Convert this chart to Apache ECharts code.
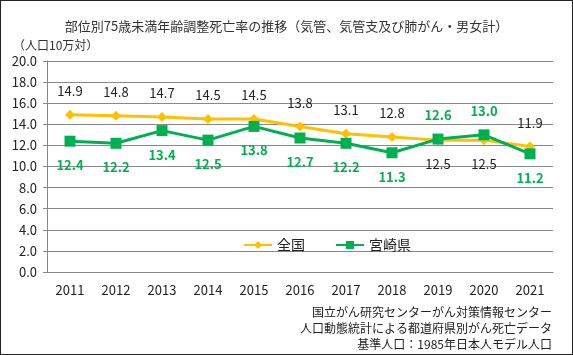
<!DOCTYPE html>
<html><head><meta charset="utf-8">
<script src="https://cdn.jsdelivr.net/npm/echarts@6/dist/echarts.min.js"></script>
<style>
html,body{margin:0;padding:0;background:#fff;}
#c{width:573px;height:355px;box-sizing:border-box;border:1px solid #222;}
</style></head>
<body><div id="c"></div>
<script>
const years = ['2011','2012','2013','2014','2015','2016','2017','2018','2019','2020','2021'];
const national = [14.9, 14.8, 14.7, 14.5, 14.5, 13.8, 13.1, 12.8, 12.5, 12.5, 11.9];
const miyazaki = [12.4, 12.2, 13.4, 12.5, 13.8, 12.7, 12.2, 11.3, 12.6, 13.0, 11.2];
const sources = ['国立がん研究センターがん対策情報センター','人口動態統計による都道府県別がん死亡データ','基準人口：1985年日本人モデル人口'];

const FONT = '"Noto Sans CJK JP", "Noto Sans", sans-serif';
const ORANGE = '#FFC000', GREEN = '#00B050';
const flip = new Set([8, 9]);

const chart = echarts.init(document.getElementById('c'), null, {renderer:'canvas'});
const srcGraphics = sources.map((s,i)=>({type:'text', right:20, top:305+i*16,
  style:{text:s, fontSize:12, fill:'#222', fontFamily:FONT}}));
chart.setOption({
  animation:false,
  textStyle:{fontFamily:FONT},
  title:{text:'部位別75歳未満年齢調整死亡率の推移（気管、気管支及び肺がん・男女計）', left:'center', top:14,
    textStyle:{fontSize:13, fontWeight:'normal', color:'#333', fontFamily:FONT}},
  graphic:[
    {type:'text', left:12, top:38, style:{text:'（人口10万対）', fontSize:12, fill:'#333', fontFamily:FONT}}
  ].concat(srcGraphics),
  legend:{top:232, left:237, itemGap:30, itemWidth:28, itemHeight:10,
    textStyle:{fontSize:14, color:'#222', fontFamily:FONT},
    data:['全国','宮崎県']},
  grid:{left:46, right:19, top:60, bottom:82},
  xAxis:{type:'category', data:years, boundaryGap:true,
    axisLine:{lineStyle:{color:'#888'}}, axisTick:{lineStyle:{color:'#888'}, length:5},
    axisLabel:{fontSize:13, color:'#222', margin:12, fontFamily:FONT}},
  yAxis:{type:'value', min:0, max:20, interval:2,
    axisLine:{show:true, lineStyle:{color:'#888'}}, axisTick:{show:true, length:4, lineStyle:{color:'#888'}},
    splitLine:{lineStyle:{color:'#888'}},
    axisLabel:{fontSize:13, color:'#222', margin:10, formatter:v=>v.toFixed(1), fontFamily:FONT}},
  series:[
    {name:'全国', type:'line', symbol:'diamond', symbolSize:10, lineStyle:{width:3, color:ORANGE}, itemStyle:{color:ORANGE},
     data:national.map((v,i)=>({value:v, label:{position: flip.has(i)?'bottom':'top'}})),
     label:{show:true, distance:12, fontSize:13, color:'#222', formatter:p=>p.value.toFixed(1), fontFamily:FONT}},
    {name:'宮崎県', type:'line', symbol:'rect', symbolSize:11, lineStyle:{width:3, color:GREEN}, itemStyle:{color:GREEN},
     data:miyazaki.map((v,i)=>({value:v, label:{position: flip.has(i)?'top':'bottom'}})),
     label:{show:true, distance:12, fontSize:13, color:GREEN, fontWeight:'bold', formatter:p=>p.value.toFixed(1), fontFamily:FONT}}
  ]
});
</script></body></html>
